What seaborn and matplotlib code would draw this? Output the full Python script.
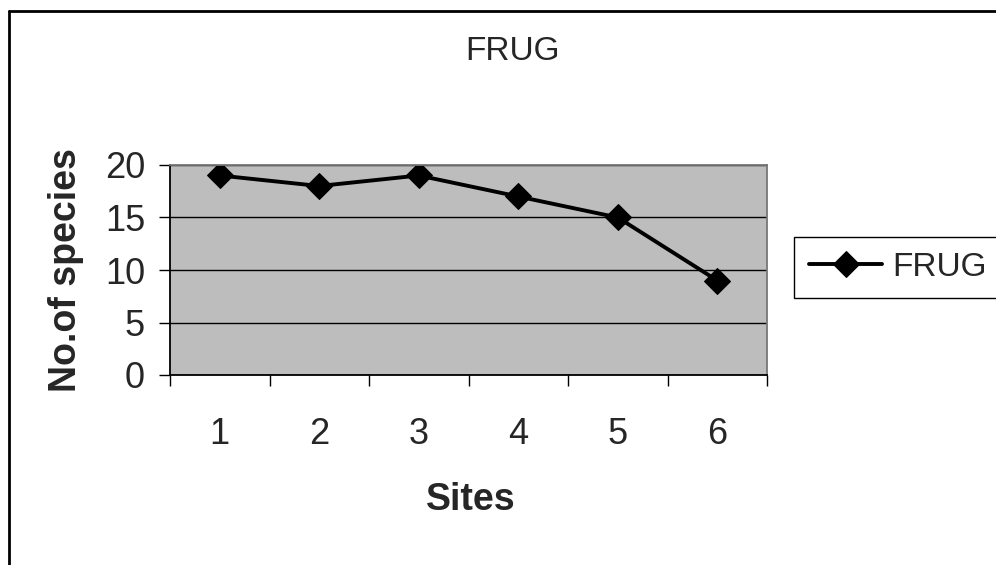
import numpy as np
import pandas as pd
import seaborn as sns
import matplotlib.pyplot as plt
from matplotlib.lines import Line2D

sites = [1, 2, 3, 4, 5, 6]
species = [19, 18, 19, 17, 15, 9]
series_name = "FRUG"

df = pd.DataFrame({"Sites": sites, "No.of species": species, "group": series_name})

sns.set_style("white")
plt.rcParams['font.family'] = ['Liberation Sans', 'DejaVu Sans']

W, H = 996, 565
fig = plt.figure(figsize=(W / 100, H / 100), dpi=100)
# plot area in pixels: x 170-767, y 165-375
ax = fig.add_axes([170 / W, 1 - 375 / H, (767 - 170) / W, (375 - 165) / H])
ax.set_facecolor('#bdbdbd')

sns.lineplot(data=df, x="Sites", y="No.of species", hue="group", palette=['black'],
             marker='D', markersize=13, linewidth=2.8, markeredgecolor='black',
             ax=ax, legend=True)

ax.set_xlim(0.5, 6.5)
ax.set_ylim(0, 20)
ax.set_yticks([0, 5, 10, 15, 20])
ax.set_xticks(sites)
ax.set_xticks(np.arange(0.5, 7, 1), minor=True)
ax.yaxis.grid(True, color='black', linewidth=1)
ax.xaxis.grid(False)
ax.set_axisbelow(True)

ax.tick_params(axis='y', which='major', direction='out', length=8, width=1,
               color='black', pad=10, labelsize=26, left=True)
ax.tick_params(axis='x', which='major', length=0, pad=30, labelsize=26)
ax.tick_params(axis='x', which='minor', direction='out', length=8, width=1,
               color='black', bottom=True)

for side in ['left', 'bottom']:
    ax.spines[side].set_color('black')
    ax.spines[side].set_linewidth(1.3)
for side in ['top', 'right']:
    ax.spines[side].set_color('#777777')
    ax.spines[side].set_linewidth(1.3)

ax.set_xlabel("Sites", fontsize=27, fontweight='bold')
ax.xaxis.set_label_coords(0.504, (375 - 500) / 210)
ax.xaxis.label.set_va('center')
ax.set_ylabel("No.of species", fontsize=27, fontweight='bold')
ax.yaxis.set_label_coords((66 - 170) / 597, 0.5)
ax.yaxis.label.set_va('center')

fig.text(512 / W, 1 - 52 / H, "FRUG", fontsize=24, ha='center', va='center')

handles, labels = ax.get_legend_handles_labels()
ax.legend(handles, labels, loc='center left', bbox_to_anchor=(794 / W, 1 - 267 / H),
          bbox_transform=fig.transFigure, borderaxespad=0, fontsize=24,
          frameon=True, fancybox=False, edgecolor='black', framealpha=1,
          handlelength=2.2, handletextpad=0.3, borderpad=0.45)
ax.get_legend().get_frame().set_linewidth(1)

# outer chart border
fig.add_artist(Line2D([9 / W, 9 / W], [0, 1 - 11 / H], color='black', linewidth=2))
fig.add_artist(Line2D([9 / W, 1], [1 - 11 / H, 1 - 11 / H], color='black', linewidth=2))

fig.savefig("out.png", dpi=100)
